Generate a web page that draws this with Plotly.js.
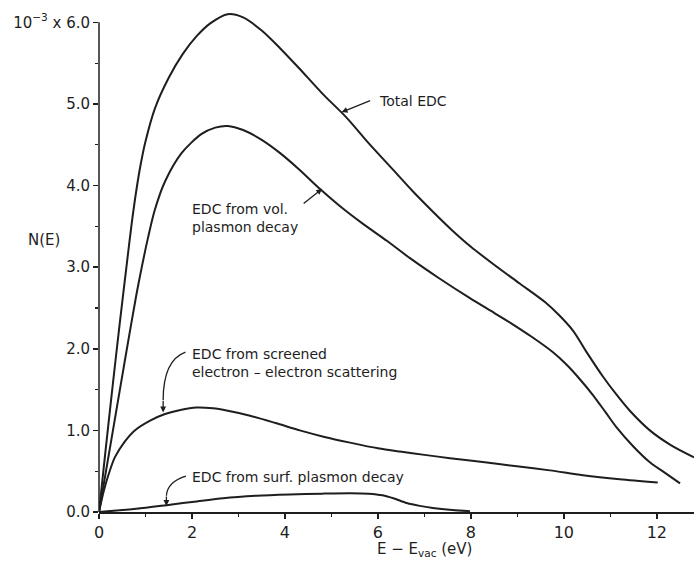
<!DOCTYPE html>
<html>
<head>
<meta charset="utf-8">
<script src="https://cdn.plot.ly/plotly-3.0.1.min.js"></script>
<style>html,body{margin:0;padding:0;background:#fff;}#chart{width:694px;height:564px;}</style>
</head>
<body>
<div id="chart"></div>
<script>
// Energy above vacuum level (eV) and N(E) values (units of 1e-3)
const totalE = [0, 0.15, 0.3, 0.45, 0.6, 0.7, 0.8, 0.9, 1.0, 1.2, 1.5, 1.8, 2.1, 2.4, 2.77, 3.1, 3.5, 3.9, 4.3, 4.8, 5.33, 5.8, 6.3, 6.75, 7.2, 7.6, 8.0, 8.5, 9.05, 9.6, 9.9, 10.2, 10.5, 10.84, 11.13, 11.42, 11.85, 12.3, 12.8];
const totalN = [0, 0.8, 1.58, 2.33, 3.05, 3.52, 3.93, 4.27, 4.54, 4.94, 5.32, 5.61, 5.83, 5.99, 6.1, 6.06, 5.9, 5.68, 5.44, 5.13, 4.83, 4.52, 4.21, 3.93, 3.67, 3.45, 3.25, 3.03, 2.8, 2.57, 2.41, 2.22, 1.95, 1.66, 1.44, 1.24, 1.0, 0.82, 0.67];

const volE = [0, 0.3, 0.6, 0.8, 0.92, 1.05, 1.2, 1.42, 1.78, 2.2, 2.5, 2.77, 3.1, 3.5, 3.89, 4.3, 4.75, 5.2, 5.68, 6.2, 6.69, 7.3, 7.98, 8.5, 8.9, 9.3, 9.76, 10.05, 10.34, 10.63, 10.9, 11.13, 11.5, 11.85, 12.2, 12.5];
const volN = [0, 1.0, 2.0, 2.65, 3.0, 3.35, 3.7, 4.05, 4.4, 4.63, 4.71, 4.73, 4.68, 4.56, 4.4, 4.2, 3.96, 3.74, 3.53, 3.32, 3.11, 2.87, 2.62, 2.44, 2.3, 2.15, 1.96, 1.81, 1.63, 1.43, 1.22, 1.04, 0.8, 0.61, 0.47, 0.35];

const scrE = [0, 0.1, 0.2, 0.34, 0.55, 0.77, 1.1, 1.42, 1.75, 2.1, 2.45, 2.77, 3.25, 3.8, 4.32, 4.85, 5.4, 6.0, 6.47, 7.0, 7.55, 8.3, 8.99, 9.7, 10.41, 11.2, 12.02];
const scrN = [0, 0.25, 0.45, 0.67, 0.86, 1.0, 1.12, 1.2, 1.25, 1.28, 1.27, 1.24, 1.18, 1.09, 1.0, 0.92, 0.85, 0.78, 0.74, 0.7, 0.66, 0.61, 0.56, 0.51, 0.45, 0.4, 0.36];

const surfE = [0, 0.8, 1.53, 2.1, 2.67, 3.4, 4.1, 4.8, 5.4, 5.8, 6.1, 6.35, 6.62, 6.9, 7.18, 7.6, 7.98];
const surfN = [0, 0.04, 0.09, 0.13, 0.17, 0.2, 0.215, 0.225, 0.23, 0.225, 0.205, 0.165, 0.11, 0.075, 0.05, 0.025, 0.01];

const xTickVals = [0, 2, 4, 6, 8, 10, 12];
const xTickText = ['0', '2', '4', '6', '8', '10', '12'];
const yTickVals = [0, 1, 2, 3, 4, 5, 6];
const yTickText = ['0.0', '1.0', '2.0', '3.0', '4.0', '5.0', '10<sup>−3</sup> x 6.0'];

const labels = {
  total: 'Total EDC',
  vol: 'EDC from vol.<br>plasmon decay',
  scr: 'EDC from screened<br>electron – electron scattering',
  surf: 'EDC from surf. plasmon decay'
};

const ink = '#1e1e1e';
const FONT = 'DejaVu Sans, sans-serif';
const line = {color: ink, width: 2, shape: 'spline', smoothing: 0.8};

const traces = [
  {x: totalE, y: totalN, mode: 'lines', line: line, name: 'Total EDC'},
  {x: volE, y: volN, mode: 'lines', line: line, name: 'vol'},
  {x: scrE, y: scrN, mode: 'lines', line: line, name: 'screened'},
  {x: surfE, y: surfN, mode: 'lines', line: line, name: 'surf'}
];

const txt = (text, x, y, extra) => Object.assign({
  text: text, x: x, y: y, xref: 'x', yref: 'y', showarrow: false,
  xanchor: 'left', yanchor: 'middle', align: 'left',
  font: {family: FONT, size: 14, color: ink}
}, extra || {});

const arrow = (x, y, ax, ay) => ({
  text: '', x: x, y: y, xref: 'x', yref: 'y', ax: ax, ay: ay,
  showarrow: true, arrowhead: 2, arrowsize: 0.9, arrowwidth: 1.3, arrowcolor: ink, standoff: 0
});

const layout = {
  width: 694, height: 564,
  margin: {l: 99, r: 0, t: 6, b: 52},
  paper_bgcolor: '#fff', plot_bgcolor: '#fff',
  showlegend: false,
  font: {family: FONT, color: ink},
  xaxis: {
    range: [0, 12.8], showgrid: false, zeroline: false,
    showline: true, linecolor: ink, linewidth: 1.5,
    ticks: 'outside', ticklen: 5, tickwidth: 1.5, tickcolor: ink,
    tickvals: xTickVals, ticktext: xTickText,
    tickfont: {family: FONT, size: 16, color: ink},
    minor: {dtick: 1, tick0: 0, ticks: 'outside', ticklen: 3, tickwidth: 1.2, tickcolor: ink},
    automargin: false, fixedrange: true
  },
  yaxis: {
    range: [0, 6.2], showgrid: false, zeroline: false,
    showline: false,
    ticks: 'outside', ticklen: 5, tickwidth: 1.5, tickcolor: ink,
    tickvals: yTickVals, ticktext: yTickText,
    tickfont: {family: FONT, size: 15, color: ink},
    minor: {dtick: 0.5, tick0: 0, ticks: 'outside', ticklen: 3, tickwidth: 1.2, tickcolor: ink},
    automargin: false, fixedrange: true
  },
  shapes: [
    {type: 'line', xref: 'paper', yref: 'paper', x0: 0, x1: 0, y0: 0, y1: 6 / 6.2,
     line: {color: ink, width: 1.5}},
    {type: 'path', xref: 'x', yref: 'y', path: 'M 1.86,1.96 Q 1.38,1.86 1.38,1.37',
     line: {color: ink, width: 1.3}},
    {type: 'path', xref: 'x', yref: 'y', path: 'M 1.87,0.44 Q 1.47,0.37 1.45,0.2',
     line: {color: ink, width: 1.3}}
  ],
  annotations: [
    txt(labels.total, 5.98, 5.04),
    txt(labels.vol, 1.96, 3.60),
    txt(labels.scr, 1.96, 1.82),
    txt(labels.surf, 1.96, 0.43),
    arrow(5.22, 4.9, 30, -12),
    arrow(4.80, 3.96, -20, 16),
    arrow(1.38, 1.22, 0, -13),
    arrow(1.45, 0.075, 0, -11),
    {text: 'E − E<sub>vac</sub> (eV)', xref: 'x', yref: 'paper', x: 7.0, y: -0.075,
     showarrow: false, xanchor: 'center', yanchor: 'middle',
     font: {family: FONT, size: 15, color: ink}},
    {text: 'N(E)', xref: 'paper', yref: 'y', x: -0.0924, y: 3.33,
     showarrow: false, xanchor: 'center', yanchor: 'middle',
     font: {family: FONT, size: 15, color: ink}}
  ]
};

Plotly.newPlot('chart', traces, layout, {staticPlot: true, displayModeBar: false});
</script>
</body>
</html>
